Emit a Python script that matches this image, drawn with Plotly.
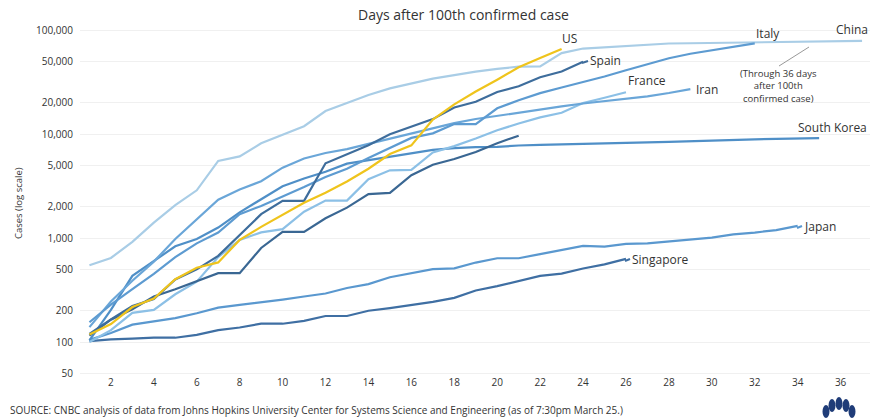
import plotly.graph_objects as go

# ---- data: cumulative confirmed cases, day 1 = first day with >=100 cases ----
china = [548, 643, 920, 1406, 2075, 2877, 5509, 6087, 8141, 9802, 11891, 16630,
         19716, 23707, 27440, 30587, 34110, 36814, 39829, 42354, 44386, 44759,
         59895, 66358, 68413, 70513, 72434, 74211, 74619, 75077, 75550, 77001,
         77022, 77241, 77754, 78166, 78600]
italy = [155, 229, 322, 453, 655, 888, 1128, 1694, 2036, 2502, 3089, 3858, 4636,
         5883, 7375, 9172, 10149, 12462, 12462, 17660, 21157, 24747, 27980,
         31506, 35713, 41035, 47021, 53578, 59138, 63927, 69176, 74386]
us = [118, 149, 217, 262, 402, 518, 583, 959, 1281, 1663, 2179, 2727, 3499, 4632,
      6421, 7783, 13747, 19273, 25600, 33276, 43847, 53740, 65778]
spain = [120, 165, 222, 259, 400, 500, 673, 1073, 1695, 2277, 2277, 5232, 6391,
         7798, 9942, 11748, 13910, 17963, 20410, 25374, 28768, 35136, 39885, 49515]
france = [100, 130, 191, 204, 288, 380, 656, 957, 1134, 1217, 1792, 2289, 2289,
          3672, 4480, 4513, 6650, 7652, 9043, 10871, 12612, 14459, 16018, 19856,
          22304, 25233]
iran = [139, 245, 388, 593, 978, 1501, 2336, 2922, 3513, 4747, 5823, 6566, 7161,
        8042, 9000, 10075, 11364, 12729, 13938, 14991, 16169, 17361, 18407,
        19644, 20610, 21638, 23049, 24811, 27017]
south_korea = [104, 204, 433, 602, 833, 977, 1261, 1766, 2337, 3150, 3736, 4335,
               5186, 5621, 6088, 6593, 7041, 7314, 7478, 7513, 7755, 7869, 7979,
               8086, 8162, 8236, 8320, 8413, 8565, 8652, 8799, 8897, 8961, 9037,
               9137]
japan = [105, 122, 147, 159, 170, 189, 214, 228, 241, 256, 274, 293, 331, 360,
         420, 461, 502, 511, 581, 639, 639, 701, 773, 839, 825, 878, 889, 924,
         963, 1007, 1086, 1128, 1193, 1307]
singapore = [102, 106, 108, 110, 110, 117, 130, 138, 150, 150, 160, 178, 178,
             200, 212, 226, 243, 266, 313, 345, 385, 432, 455, 509, 558, 631]
uk = [115, 164, 207, 274, 322, 384, 459, 459, 802, 1144, 1145, 1551, 1960, 2642,
      2716, 4014, 5067, 5745, 6726, 8164, 9640]

series = [
    ("China", china, "#a9cde6"),
    ("Japan", japan, "#5a98cf"),
    ("Singapore", singapore, "#3f6fa3"),
    ("South Korea", south_korea, "#4f8fc7"),
    ("France", france, "#8cc0e6"),
    ("Iran", iran, "#6aa6d8"),
    ("United Kingdom", uk, "#3a6793"),
    ("Italy", italy, "#5d9bd1"),
    ("Spain", spain, "#3e6d9c"),
    ("US", us, "#efc41c"),
]

y_ticks = [50, 100, 200, 500, 1000, 2000, 5000, 10000, 20000, 50000, 100000]
y_ticktext = ["50", "100", "200", "500", "1,000", "2,000", "5,000", "10,000",
              "20,000", "50,000", "100,000"]
x_ticks = list(range(2, 37, 2))

FONT = "Open Sans"
TXT = "#333333"

fig = go.Figure()
for name, vals, col in series:
    fig.add_trace(go.Scatter(
        x=list(range(1, len(vals) + 1)), y=vals, mode="lines", name=name,
        line=dict(color=col, width=2.2), hoverinfo="name+x+y"))

# plot area in pixels
L, R, T, B = 80, 870, 22, 375
W, H = 873, 419


def px(xp):
    return (xp - L) / (R - L)


def py(yp):
    return (B - yp) / (B - T)


anns = []
anns.append(dict(text="Days after 100th confirmed case", x=px(463), y=py(14),
                 xref="paper", yref="paper", showarrow=False,
                 font=dict(size=14, color=TXT, family=FONT),
                 xanchor="center", yanchor="middle"))
anns.append(dict(text="Cases (log scale)", x=px(18), y=py(203), xref="paper",
                 yref="paper", showarrow=False, textangle=-90,
                 font=dict(size=9.5, color=TXT, family=FONT),
                 xanchor="center", yanchor="middle"))
anns.append(dict(text="SOURCE: CNBC analysis of data from Johns Hopkins University Center "
                      "for Systems Science and Engineering (as of 7:30pm March 25.)",
                 x=px(8), y=py(410), xref="paper", yref="paper", showarrow=False,
                 font=dict(size=10, color=TXT, family=FONT),
                 xanchor="left", yanchor="middle"))

labels = [
    ("US", 560, 38),
    ("Spain", 588, 61),
    ("France", 626, 81),
    ("Iran", 694, 90),
    ("Italy", 754, 33),
    ("China", 834, 30),
    ("South Korea", 796, 127),
    ("Japan", 802, 226),
    ("Singapore", 630, 259),
]
for text, xp, yp in labels:
    anns.append(dict(text=text, x=px(xp), y=py(yp), xref="paper", yref="paper",
                     showarrow=False, font=dict(size=12, color=TXT, family=FONT),
                     xanchor="left", yanchor="middle"))

anns.append(dict(text="(Through 36 days<br>after 100th<br>confirmed case)",
                 x=px(778), y=py(86), xref="paper", yref="paper", showarrow=False,
                 font=dict(size=9.5, color=TXT, family=FONT),
                 xanchor="center", yanchor="middle"))

shapes = [
    dict(type="line", xref="paper", yref="paper", x0=px(809), y0=py(47),
         x1=px(779), y1=py(66), line=dict(color="#999999", width=1)),
    dict(type="line", xref="paper", yref="paper", x0=px(582), y0=py(63),
         x1=px(588), y1=py(61), line=dict(color="#3e6d9c", width=2)),
    dict(type="line", xref="paper", yref="paper", x0=px(797), y0=py(228),
         x1=px(802), y1=py(226), line=dict(color="#5a98cf", width=2)),
    dict(type="line", xref="paper", yref="paper", x0=px(625), y0=py(261),
         x1=px(630), y1=py(259), line=dict(color="#3f6fa3", width=2)),
]
petals = [(826, 410), (832, 404), (839, 402), (846, 404), (852, 410)]
for cx, cy in petals:
    shapes.append(dict(type="circle", xref="paper", yref="paper",
                       x0=px(cx - 3.5), x1=px(cx + 3.5), y0=py(cy + 8), y1=py(cy - 5),
                       fillcolor="#1f3c78", line=dict(width=0)))

fig.update_layout(
    width=W, height=H,
    margin=dict(l=L, r=W - R, t=T, b=H - B),
    paper_bgcolor="white", plot_bgcolor="white",
    showlegend=False,
    font=dict(family=FONT, color=TXT),
    annotations=anns, shapes=shapes,
    xaxis=dict(range=[0.56, 37.37], tickvals=x_ticks, showgrid=False,
               zeroline=False, showline=False, ticks="",
               tickfont=dict(size=10, color=TXT, family=FONT)),
    yaxis=dict(type="log", range=[1.683, 5.077], tickvals=y_ticks,
               ticktext=y_ticktext, showgrid=True, gridcolor="#f0f0f0",
               gridwidth=1, zeroline=False, showline=False, ticks="",
               ticklabelstandoff=6,
               tickfont=dict(size=10, color=TXT, family=FONT)),
)

fig.write_html("out.html", config={"displayModeBar": False},
               post_script="document.body.style.margin='0';document.body.style.overflow='hidden';")
